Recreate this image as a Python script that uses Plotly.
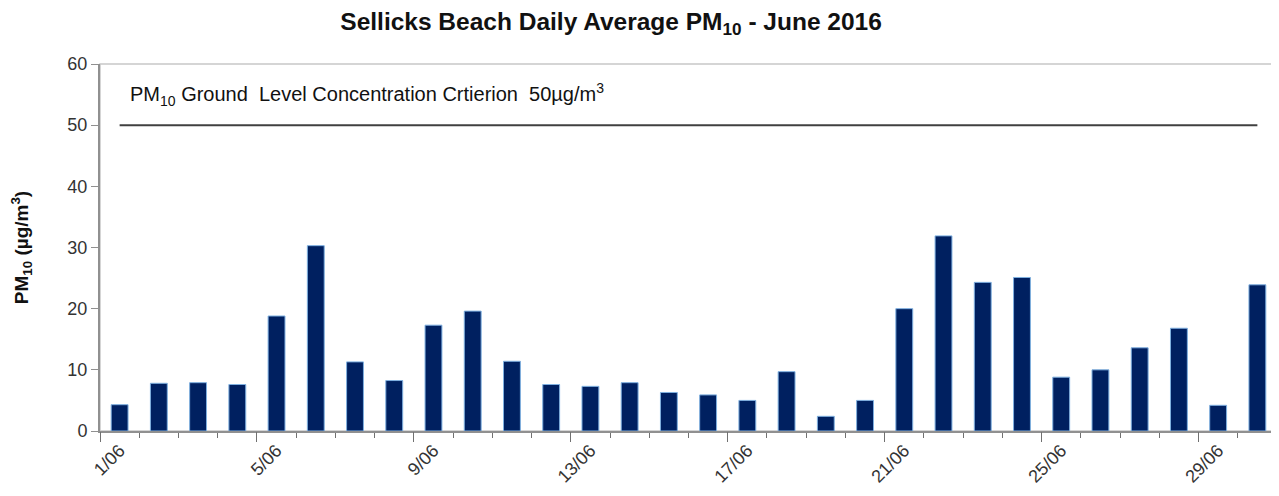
import plotly.graph_objects as go

days = list(range(1, 31))
pm10 = [4.3, 7.8, 7.9, 7.6, 18.8, 30.3, 11.3, 8.25, 17.3, 19.6,
        11.4, 7.6, 7.3, 7.9, 6.3, 5.9, 5.0, 9.7, 2.4, 5.0,
        20.0, 31.9, 24.3, 25.1, 8.8, 10.0, 13.6, 16.8, 4.2, 23.9]
criterion = 50
label_days = [1, 5, 9, 13, 17, 21, 25, 29]
label_text = [f"{d}/06" for d in label_days]
y_ticks = [0, 10, 20, 30, 40, 50, 60]

fig = go.Figure()
fig.add_trace(go.Bar(
    x=days, y=pm10, width=0.43,
    marker=dict(color="#002060", line=dict(color="#7fb0e0", width=1)),
    showlegend=False,
))
fig.add_trace(go.Scatter(
    x=days, y=[criterion] * len(days), mode="lines",
    line=dict(color="#404040", width=2), showlegend=False,
))
# overlay axis only for long ticks at every 4th category boundary
fig.add_trace(go.Scatter(x=[0.5], y=[0], xaxis="x2", mode="markers",
                         marker=dict(opacity=0), showlegend=False, hoverinfo="skip"))

font_main = "Liberation Sans, Arial, sans-serif"
fig.update_layout(
    width=1271, height=488,
    margin=dict(l=92, r=2, t=56, b=65),
    paper_bgcolor="white", plot_bgcolor="white",
    font=dict(family=font_main, color="#222222"),
    title=dict(
        text="<b>Sellicks Beach Daily Average PM<sub>10</sub> - June 2016</b>",
        x=0.4745, xanchor="center", y=0.972, yanchor="middle",
        font=dict(size=24.5, color="#111111", family=font_main),
    ),
    xaxis=dict(
        range=[0.5, 30.5], tickmode="array", tickvals=label_days, ticktext=label_text,
        tickangle=-45, ticks="", tickfont=dict(size=18, color="#333333"),
        showline=True, linecolor="#909090", linewidth=2, showgrid=False, zeroline=False,
        minor=dict(tickmode="array", tickvals=[d - 0.5 for d in days] + [30.5],
                   ticks="outside", ticklen=5, tickcolor="#707070", tickwidth=1),
    ),
    xaxis2=dict(
        range=[0.5, 30.5], overlaying="x", side="bottom", tickmode="array",
        tickvals=[d - 0.5 for d in label_days] + [30.5], showticklabels=False,
        ticks="outside", ticklen=10, tickcolor="#707070", tickwidth=1,
        showgrid=False, zeroline=False, showline=False,
    ),
    yaxis=dict(
        range=[0, 60], tickmode="array", tickvals=y_ticks, ticks="outside", ticklen=7,
        tickcolor="#909090", tickfont=dict(size=18, color="#333333"),
        showline=True, linecolor="#909090", linewidth=2, showgrid=False, zeroline=False,
        title=dict(text="<b>PM<sub>10</sub> (µg/m<sup>3</sup>)</b>",
                   font=dict(size=19, color="#111111"), standoff=34),
    ),
    bargap=0.57,
    shapes=[dict(type="rect", xref="paper", yref="paper", x0=0, x1=1, y0=0, y1=1,
                 line=dict(color="#c8c8c8", width=1.5), layer="below")],
    annotations=[dict(
        text="PM<sub>10</sub> Ground  Level Concentration Crtierion  50µg/m<sup>3</sup>",
        xref="paper", yref="y", x=0.0238, y=55, xanchor="left", yanchor="middle",
        showarrow=False, font=dict(size=20, color="#111111", family=font_main),
    )],
)

fig.write_html("out.html")
